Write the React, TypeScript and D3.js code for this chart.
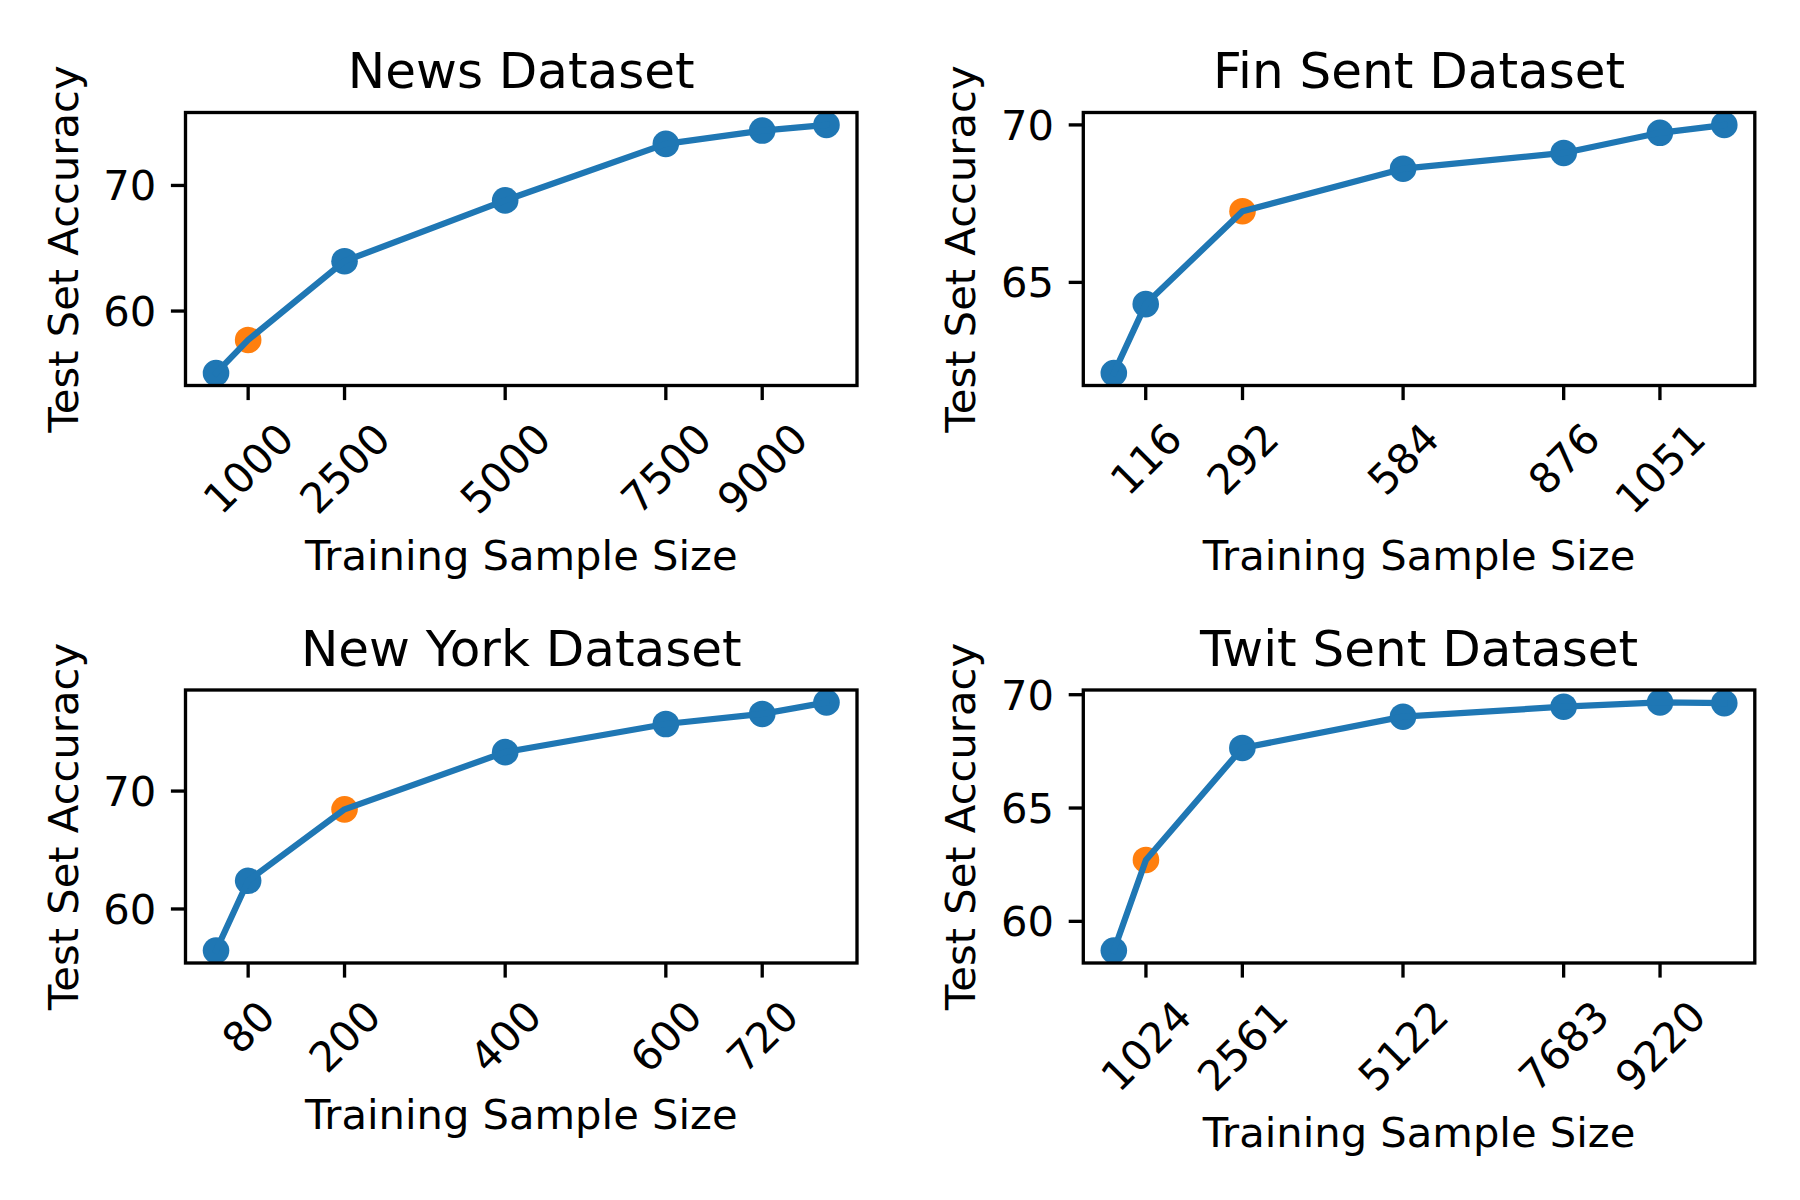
import React from "react";
import * as d3 from "d3";

// ---- Data ----
const newsX = [500, 1000, 2500, 5000, 7500, 9000, 10000];
const newsY = [55.06, 57.7, 63.97, 68.81, 73.31, 74.37, 74.82];
const newsXTicks = [1000, 2500, 5000, 7500, 9000];
const newsYTicks = [60, 70];
const newsSelected = 1;

const finX = [58, 116, 292, 584, 876, 1051, 1168];
const finY = [62.12, 64.31, 67.26, 68.61, 69.11, 69.75, 70.0];
const finXTicks = [116, 292, 584, 876, 1051];
const finYTicks = [65, 70];
const finSelected = 2;

const nyX = [40, 80, 200, 400, 600, 720, 800];
const nyY = [56.47, 62.39, 68.45, 73.3, 75.69, 76.54, 77.52];
const nyXTicks = [80, 200, 400, 600, 720];
const nyYTicks = [60, 70];
const nySelected = 2;

const twitX = [512, 1024, 2561, 5122, 7683, 9220, 10244];
const twitY = [58.71, 62.71, 67.65, 69.03, 69.47, 69.66, 69.63];
const twitXTicks = [1024, 2561, 5122, 7683, 9220];
const twitYTicks = [60, 65, 70];
const twitSelected = 1;

const titles = ["News Dataset", "Fin Sent Dataset", "New York Dataset", "Twit Sent Dataset"];
const xLabel = "Training Sample Size";
const yLabel = "Test Set Accuracy";

// ---- Styling ----
const W = 1800;
const H = 1200;
const FONT = "'DejaVu Sans', 'Liberation Sans', sans-serif";
const BLUE = "#1f77b4";
const ORANGE = "#ff7f0e";
const FS = 41.67; // 10pt @300dpi
const TITLE_FS = 50;
const TICK_LEN = 14.6;
const TICK_PAD = 14.6;
const SPINE_W = 3.33;
const LINE_W = 6.25;
const MARKER_R = 13.3;
const DIGIT_W = 0.636 * FS;

const colLeft = [185.5, 1083.3];
const colWidth = 671.5;
const rowTop = [112.5, 690];
const rowHeight = 273;

function padDomain(vals: number[]): [number, number] {
  const mn = d3.min(vals) as number;
  const mx = d3.max(vals) as number;
  const m = (mx - mn) * 0.05;
  return [mn - m, mx + m];
}

type PanelProps = {
  id: string;
  left: number;
  top: number;
  xs: number[];
  ys: number[];
  xTicks: number[];
  yTicks: number[];
  selected: number;
  title: string;
};

function Panel({ id, left, top, xs, ys, xTicks, yTicks, selected, title }: PanelProps) {
  const right = left + colWidth;
  const bottom = top + rowHeight;
  const x = d3.scaleLinear().domain(padDomain(xs)).range([left, right]);
  const y = d3.scaleLinear().domain(padDomain(ys)).range([bottom, top]);
  const pts = xs.map((v, i) => [v, ys[i]] as [number, number]);
  const line = d3
    .line<[number, number]>()
    .x((d) => x(d[0]))
    .y((d) => y(d[1]));

  const maxDigits = d3.max(xTicks, (t) => String(t).length) as number;
  const textH = 45;
  const bboxH = (maxDigits * DIGIT_W + textH) * Math.SQRT1_2;
  const xlabelY = bottom + TICK_LEN + TICK_PAD + bboxH + 48.5;

  return (
    <g>
      <defs>
        <clipPath id={`clip-${id}`}>
          <rect x={left} y={top} width={colWidth} height={rowHeight} />
        </clipPath>
      </defs>
      <g clipPath={`url(#clip-${id})`}>
        {pts.map((d, i) => (
          <circle
            key={i}
            cx={x(d[0])}
            cy={y(d[1])}
            r={MARKER_R}
            fill={i === selected ? ORANGE : BLUE}
          />
        ))}
        <path d={line(pts) || ""} fill="none" stroke={BLUE} strokeWidth={LINE_W} strokeLinejoin="round" strokeLinecap="square" />
      </g>
      <rect x={left} y={top} width={colWidth} height={rowHeight} fill="none" stroke="#000" strokeWidth={SPINE_W} />
      {/* y ticks */}
      {yTicks.map((t) => (
        <g key={`y${t}`}>
          <line x1={left} x2={left - TICK_LEN} y1={y(t)} y2={y(t)} stroke="#000" strokeWidth={SPINE_W} />
          <text
            x={left - TICK_LEN - TICK_PAD}
            y={y(t)}
            dy="0.36em"
            textAnchor="end"
            fontSize={FS}
            fontFamily={FONT}
            fill="#000"
          >
            {t}
          </text>
        </g>
      ))}
      {/* x ticks */}
      {xTicks.map((t) => {
        const w = String(t).length * DIGIT_W;
        const bh = (w + textH) * Math.SQRT1_2;
        const cy = bottom + TICK_LEN + TICK_PAD + bh / 2;
        return (
          <g key={`x${t}`}>
            <line x1={x(t)} x2={x(t)} y1={bottom} y2={bottom + TICK_LEN} stroke="#000" strokeWidth={SPINE_W} />
            <text
              transform={`translate(${x(t)},${cy}) rotate(-45)`}
              dy="0.36em"
              textAnchor="middle"
              fontSize={FS}
              fontFamily={FONT}
              fill="#000"
            >
              {t}
            </text>
          </g>
        );
      })}
      <text x={(left + right) / 2} y={top - 24.4} textAnchor="middle" fontSize={TITLE_FS} fontFamily={FONT} fill="#000">
        {title}
      </text>
      <text x={(left + right) / 2} y={xlabelY} textAnchor="middle" fontSize={FS} fontFamily={FONT} fill="#000">
        {xLabel}
      </text>
      <text
        transform={`translate(${left - 108},${(top + bottom) / 2}) rotate(-90)`}
        textAnchor="middle"
        fontSize={FS}
        fontFamily={FONT}
        fill="#000"
      >
        {yLabel}
      </text>
    </g>
  );
}

export default function App() {
  return (
    <svg
      width={W}
      height={H}
      viewBox={`0 0 ${W} ${H}`}
      style={{ position: "absolute", left: 0, top: 0, display: "block", background: "#fff" }}
    >
      <rect x={0} y={0} width={W} height={H} fill="#fff" />
      <Panel id="news" left={colLeft[0]} top={rowTop[0]} xs={newsX} ys={newsY} xTicks={newsXTicks} yTicks={newsYTicks} selected={newsSelected} title={titles[0]} />
      <Panel id="fin" left={colLeft[1]} top={rowTop[0]} xs={finX} ys={finY} xTicks={finXTicks} yTicks={finYTicks} selected={finSelected} title={titles[1]} />
      <Panel id="ny" left={colLeft[0]} top={rowTop[1]} xs={nyX} ys={nyY} xTicks={nyXTicks} yTicks={nyYTicks} selected={nySelected} title={titles[2]} />
      <Panel id="twit" left={colLeft[1]} top={rowTop[1]} xs={twitX} ys={twitY} xTicks={twitXTicks} yTicks={twitYTicks} selected={twitSelected} title={titles[3]} />
    </svg>
  );
}
